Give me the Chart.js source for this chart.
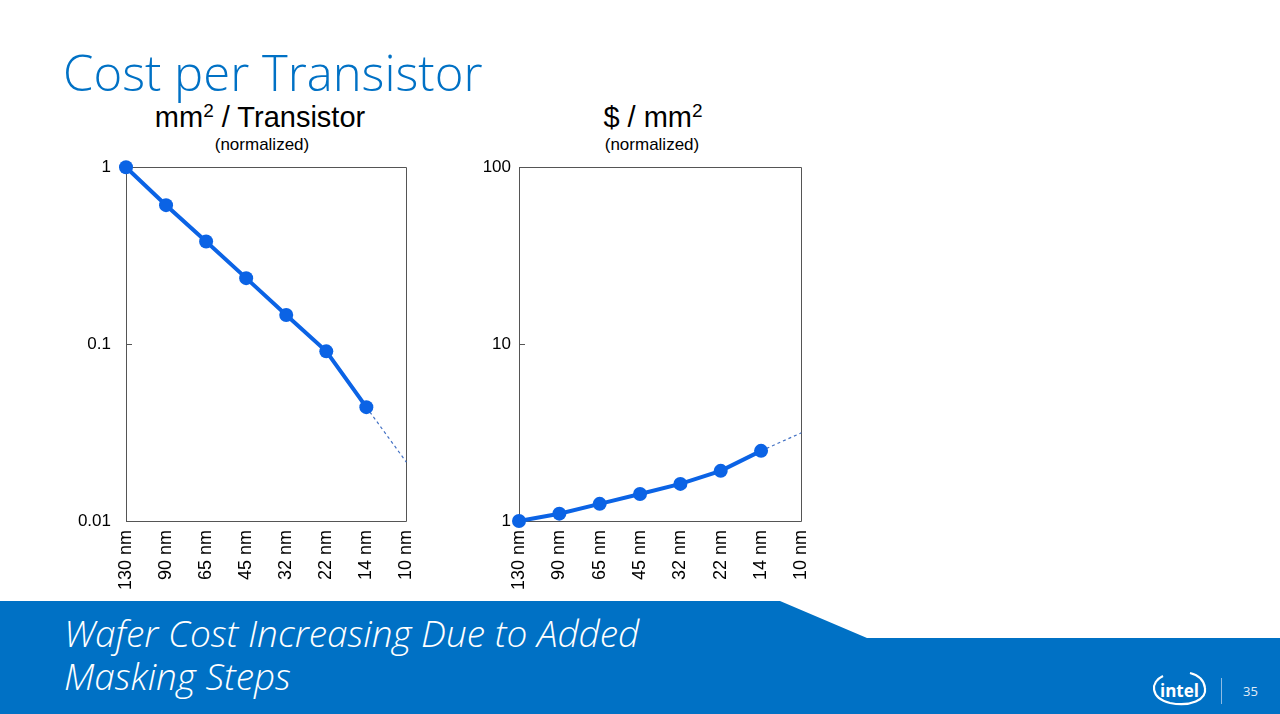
<!DOCTYPE html>
<html>
<head>
<meta charset="utf-8">
<script src="https://cdn.jsdelivr.net/npm/chart.js@4"></script>
<style>
html, body { margin: 0; padding: 0; background: #fff; }
#page { position: relative; width: 1280px; height: 714px; overflow: hidden; background: #fff; }
#page svg { position: absolute; left: 0; top: 0; }
canvas { position: absolute; }
</style>
</head>
<body>
<div id="page">
<svg width="1280" height="714">
  <text x="63" y="91" font-family="Open Sans" font-weight="350" font-size="49" fill="#0071c5">Cost per Transistor</text>

  <text x="260" y="127" text-anchor="middle" font-family="Arial, 'Liberation Sans'" font-size="29" fill="#000">mm<tspan font-size="19" dy="-10">2</tspan><tspan dy="10"> / Transistor</tspan></text>
  <text x="262" y="150" text-anchor="middle" font-family="Arial, 'Liberation Sans'" font-size="17" fill="#000">(normalized)</text>

  <text x="653" y="127" text-anchor="middle" font-family="Arial, 'Liberation Sans'" font-size="29" fill="#000">$ / mm<tspan font-size="19" dy="-10">2</tspan></text>
  <text x="652" y="150" text-anchor="middle" font-family="Arial, 'Liberation Sans'" font-size="17" fill="#000">(normalized)</text>

  <polygon points="0,601 780,601 867,638 1280,638 1280,714 0,714" fill="#0071c5"/>
  <text font-family="Open Sans" font-style="italic" font-weight="350" font-size="37" fill="#fff">
    <tspan x="64" y="647">Wafer Cost Increasing Due to Added</tspan>
    <tspan x="64" y="690">Masking Steps</tspan>
  </text>

  <path d="M1163,676 C1150,682 1150,698 1170,703 C1190,707 1207,700 1205,688 C1204,680 1198,675 1190,673" fill="none" stroke="#fff" stroke-width="2.2"/>
  <text x="1160" y="697" font-family="Open Sans" font-weight="700" font-size="17" fill="#fff">intel</text>
  <line x1="1221.5" y1="678" x2="1221.5" y2="704" stroke="#8fbbe3" stroke-width="1"/>
  <text x="1243" y="696" font-family="Open Sans" font-size="13" fill="#e0ecf7">35</text>
</svg>
<canvas id="areaChart" width="389" height="450" style="left:40px;top:150px"></canvas>
<canvas id="costChart" width="391" height="450" style="left:433px;top:150px"></canvas>
</div>
<script>
const nodes = ["130 nm", "90 nm", "65 nm", "45 nm", "32 nm", "22 nm", "14 nm", "10 nm"];

// mm2 per transistor, normalized (solid part, then dashed projection)
const areaValues = [1, 0.61, 0.38, 0.236, 0.146, 0.091, 0.044, null];
const areaProjection = [null, null, null, null, null, null, 0.044, 0.0215];
const areaTicks = [0.01, 0.1, 1];

// $ per mm2, normalized
const costValues = [1, 1.10, 1.25, 1.42, 1.62, 1.92, 2.49, null];
const costProjection = [null, null, null, null, null, null, 2.49, 3.15];
const costTicks = [1, 10, 100];

const blue = "#0b63e5";
const axisFont = "Arial, 'Liberation Sans', sans-serif";

// box round the plot area plus short inward ticks on the y axis
const frame = {
    id: "frame",
    beforeDatasetsDraw(chart) {
        const ctx = chart.ctx;
        const a = chart.chartArea;
        const y = chart.scales.y;
        ctx.save();
        ctx.strokeStyle = "#555";
        ctx.lineWidth = 1;
        ctx.beginPath();
        ctx.rect(Math.round(a.left) + 0.5, Math.round(a.top) + 0.5,
                 Math.round(a.right - a.left), Math.round(a.bottom - a.top));
        y.ticks.forEach(t => {
            const py = Math.round(y.getPixelForValue(t.value)) + 0.5;
            ctx.moveTo(a.left, py);
            ctx.lineTo(a.left + 6, py);
        });
        ctx.stroke();
        ctx.restore();
    },
};

function makeChart(id, values, projection, ticks, labelPad) {
    return new Chart(document.getElementById(id), {
        type: "line",
        data: {
            labels: nodes,
            datasets: [
                {
                    data: values,
                    borderColor: blue,
                    backgroundColor: blue,
                    borderWidth: 4,
                    pointRadius: 7,
                    pointBorderWidth: 0,
                    clip: false,
                },
                {
                    data: projection,
                    borderColor: "#4472c4",
                    borderWidth: 1.2,
                    borderDash: [3, 3],
                    pointRadius: 0,
                    clip: false,
                },
            ],
        },
        options: {
            responsive: false,
            animation: false,
            layout: { autoPadding: false, padding: { left: 0, right: 0, top: 17, bottom: 0 } },
            plugins: { legend: { display: false }, tooltip: { enabled: false } },
            scales: {
                x: {
                    type: "category",
                    offset: false,
                    grid: { display: false },
                    border: { display: false },
                    afterFit: s => { s.height = 79; },
                    ticks: {
                        autoSkip: false,
                        minRotation: 90,
                        maxRotation: 90,
                        padding: 1,
                        color: "#000",
                        font: { family: axisFont, size: 18 },
                    },
                },
                y: {
                    type: "logarithmic",
                    min: ticks[0],
                    max: ticks[ticks.length - 1],
                    grid: { display: false },
                    border: { display: false },
                    afterBuildTicks: s => { s.ticks = ticks.map(v => ({ value: v })); },
                    afterFit: s => { s.width = 86; },
                    ticks: {
                        padding: labelPad,
                        color: "#000",
                        font: { family: axisFont, size: 17 },
                        callback: v => String(v),
                    },
                },
            },
        },
        plugins: [frame],
    });
}

makeChart("areaChart", areaValues, areaProjection, areaTicks, 7);
makeChart("costChart", costValues, costProjection, costTicks, 0);
</script>
</body>
</html>
